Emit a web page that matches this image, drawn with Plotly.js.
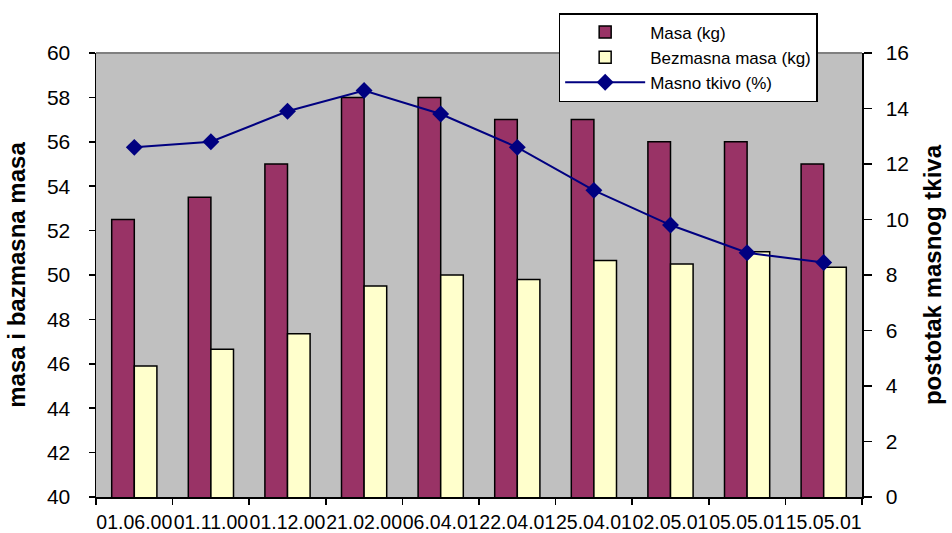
<!DOCTYPE html>
<html>
<head>
<meta charset="utf-8">
<script src="https://cdn.plot.ly/plotly-3.0.1.min.js"></script>
<style>
  html, body { margin: 0; padding: 0; background: #ffffff; }
  #chart { width: 952px; height: 533px; }
</style>
</head>
<body>
<div id="chart"></div>
<script>
// Measurement dates
const dates = ["01.06.00", "01.11.00", "01.12.00", "21.02.00", "06.04.01",
               "22.04.01", "25.04.01", "02.05.01", "05.05.01", "15.05.01"];

// Body mass (kg)
const masa = [52.5, 53.5, 55, 58, 58, 57, 57, 56, 56, 55];

// Lean body mass (kg)
const bezmasnaMasa = [45.9, 46.65, 47.35, 49.5, 50.0, 49.8, 50.65, 50.5, 51.05, 50.35];

// Body fat percentage (%)
const masnoTkivo = [12.6, 12.8, 13.9, 14.65, 13.8, 12.6, 11.05, 9.8, 8.8, 8.45];

// Axis ticks
const leftTicks = [40, 42, 44, 46, 48, 50, 52, 54, 56, 58, 60];
const rightTicks = [0, 2, 4, 6, 8, 10, 12, 14, 16];

const font = "Arial, 'Liberation Sans', sans-serif";

const traces = [
  {
    type: "bar",
    name: "Masa (kg)",
    x: dates,
    y: masa,
    marker: { color: "#993366", line: { color: "#000000", width: 1.5 } },
    hoverinfo: "x+y"
  },
  {
    type: "bar",
    name: "Bezmasna masa (kg)",
    x: dates,
    y: bezmasnaMasa,
    marker: { color: "#FFFFCC", line: { color: "#000000", width: 1.5 } },
    hoverinfo: "x+y"
  },
  {
    type: "scatter",
    mode: "lines+markers",
    name: "Masno tkivo (%)",
    x: dates,
    y: masnoTkivo,
    yaxis: "y2",
    line: { color: "#000080", width: 2 },
    marker: { symbol: "diamond", size: 13, color: "#000080" },
    hoverinfo: "x+y"
  }
];

const layout = {
  width: 952,
  height: 533,
  margin: { l: 96, r: 90, t: 53, b: 36 },
  paper_bgcolor: "#ffffff",
  plot_bgcolor: "#C0C0C0",
  font: { family: font, color: "#000000" },
  barmode: "group",
  bargap: 0.41,
  bargroupgap: 0,
  showlegend: true,
  legend: {
    x: 0.604, y: 1.09, xanchor: "left", yanchor: "top",
    bgcolor: "#ffffff",
    bordercolor: "#000000",
    borderwidth: 1.5,
    font: { family: font, size: 17, color: "#000000" },
    tracegroupgap: 0,
    itemwidth: 80,
    traceorder: "normal"
  },
  xaxis: {
    type: "category",
    range: [-0.5, 9.5],
    tickson: "boundaries",
    tickangle: 0,
    ticks: "outside",
    ticklen: 6,
    tickwidth: 1.5,
    tickcolor: "#000000",
    showline: true,
    linecolor: "#000000",
    linewidth: 1.5,
    showgrid: false,
    zeroline: false,
    tickfont: { family: font, size: 19.5, color: "#000000" },
    ticklabelstandoff: 7,
    fixedrange: true
  },
  yaxis: {
    range: [40, 60],
    tickvals: leftTicks,
    ticktext: leftTicks.map(String),
    ticks: "outside",
    ticklen: 6,
    tickwidth: 1.5,
    tickcolor: "#000000",
    showline: true,
    linecolor: "#000000",
    linewidth: 1.5,
    showgrid: false,
    zeroline: false,
    tickfont: { family: font, size: 21, color: "#000000" },
    ticklabelstandoff: 14,
    title: {
      text: "masa i bazmasna masa",
      font: { family: font, size: 24, color: "#000000", weight: "bold" },
      standoff: 14
    },
    fixedrange: true
  },
  yaxis2: {
    overlaying: "y",
    side: "right",
    range: [0, 16],
    tickvals: rightTicks,
    ticktext: rightTicks.map(String),
    ticks: "outside",
    ticklen: 8,
    tickwidth: 1.5,
    tickcolor: "#000000",
    showline: true,
    linecolor: "#000000",
    linewidth: 1.5,
    showgrid: false,
    zeroline: false,
    tickfont: { family: font, size: 21, color: "#000000" },
    ticklabelstandoff: 10,
    title: {
      text: "postotak masnog tkiva",
      font: { family: font, size: 24, color: "#000000", weight: "bold" },
      standoff: 16
    },
    fixedrange: true
  },
  shapes: [
    {
      // grey top border of the plotting area
      type: "line", xref: "paper", yref: "paper",
      x0: 0, x1: 1, y0: 1, y1: 1,
      line: { color: "#808080", width: 2 },
      layer: "below"
    }
  ]
};

Plotly.newPlot("chart", traces, layout, { displayModeBar: false, staticPlot: true });
</script>
</body>
</html>
